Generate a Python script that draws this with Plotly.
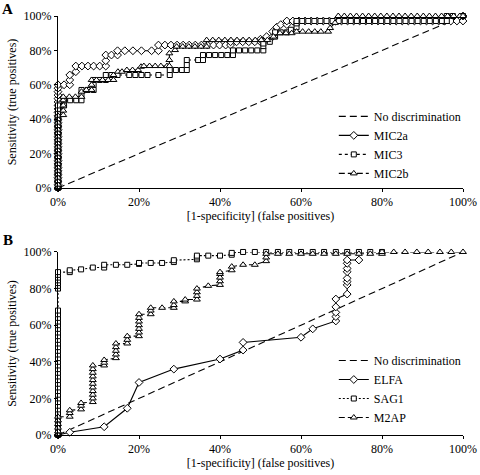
import plotly.graph_objects as go

# ---------------- Panel A data (percent) ----------------
nd_x = [0, 100]
nd_y = [0, 100]

mic2a_x = [0]*31 + [1.5, 2.9, 2.9, 2.9, 4.4, 4.4, 5.9, 7.4, 8.8, 10.3, 11.8, 11.8, 11.8, 13.2, 14.7, 14.7,
           16.5, 18.5, 20.6, 23.1, 24.8, 24.8, 26.4, 27.9, 29.4, 30.9, 32.4, 33.9, 35.4, 36.9, 38.4, 39.9,
           41.4, 42.6, 42.6, 44.1, 45.6, 47.1, 48.6, 50.0, 50.0, 51.5, 51.5, 53.0, 53.0, 54.0, 55.0, 56.5,
           56.5, 58.0, 59.5, 61.0, 62.5, 64.0, 65.5, 67.0, 68.5, 70.0, 71.5, 73.0, 74.5, 76.0, 77.5, 79.0,
           80.5, 82.0, 83.5, 85.0, 86.5, 88.0, 89.5, 91.0, 92.5, 94.0, 95.5, 97.0, 98.5, 100, 100]
mic2a_y = [0, 2, 4, 6, 8, 10, 12, 14, 16, 18, 20, 22, 24, 26, 28, 30, 32, 34, 36, 38, 40, 42, 44, 46, 48,
           50, 52, 54, 56, 58, 60,
           60, 60, 62.8, 65.7, 67.6, 70.9, 70.9, 70.9, 70.9, 70.9, 70.9, 74.0, 77.3, 77.3, 77.3, 79.8,
           79.8, 79.8, 79.8, 79.8, 79.8, 83.1, 83.1, 83.1, 83.1, 83.1, 83.1, 83.1, 83.1, 83.1, 83.1, 83.1,
           83.1, 83.1, 85.0, 85.0, 85.0, 85.0, 85.0, 85.0, 86.5, 86.5, 88.0, 88.0, 91.0, 93.5, 95.0, 95.0,
           97.1, 97.1, 97.1, 97.1, 97.1, 97.1, 97.1, 97.1, 97.1, 97.1, 97.1, 97.1, 97.1, 97.1, 97.1, 97.1,
           97.1, 97.1, 97.1, 97.1, 97.1, 97.1, 97.1, 97.1, 97.1, 97.1, 97.1, 97.1, 97.1, 97.1, 100]

mic3_x = [0]*25 + [1.5, 1.5, 3.0, 4.5, 5.8, 5.8, 5.8, 7.3, 8.8, 8.8, 8.8, 10.3, 11.8, 11.8, 13.2, 14.7,
          17.6, 19.1, 20.6, 22.1, 24.8, 27.6, 27.6, 29.1, 30.6, 31.8, 31.8, 31.8, 34.6, 35.8, 35.8, 37.3,
          38.8, 40.3, 41.8, 43.2, 43.2, 44.7, 46.2, 47.7, 49.2, 50.7, 50.7, 50.7, 52.3, 53.6, 53.6, 55.0,
          56.5, 57.5, 58.9, 58.9, 58.9, 60.3, 61.8, 63.3, 64.8, 66.3, 67.8, 69.3, 70.8, 72.3, 73.8, 75.3,
          76.8, 78.3, 79.8, 81.3, 82.8, 84.3, 85.8, 87.3, 88.8, 90.3, 91.8, 93.3, 94.8, 96.0, 96.0, 97.5,
          100]
mic3_y = [0, 2, 4, 6, 8, 10, 12, 14, 16, 18, 20, 22, 24, 26, 28, 30, 32, 34, 36, 38, 40, 42, 44, 46, 48,
          48, 51, 51, 51, 51, 54, 57, 57, 57, 60, 62.8, 62.8, 62.8, 65.7, 65.7, 65.7,
          65.7, 65.7, 65.7, 65.7, 65.7, 65.7, 68.6, 68.6, 68.6, 68.6, 71.5, 74.4, 74.4, 74.4, 77.3, 77.3,
          77.3, 77.3, 77.3, 77.3, 80.0, 80.0, 80.0, 80.0, 80.0, 80.0, 82.5, 84.0, 85.0, 88.0, 90.5, 90.5,
          90.5, 92.0, 93.5, 95.7, 97.1, 97.1, 97.1, 97.1, 97.1, 97.1, 97.1, 97.1, 97.1, 97.1, 97.1, 97.1,
          97.1, 97.1, 97.1, 97.1, 97.1, 97.1, 97.1, 97.1, 97.1, 97.1, 97.1, 97.1, 97.1, 97.1, 100, 100,
          100]

mic2b_x = [0]*22 + [1.3, 1.3, 1.3, 1.3, 1.3, 2.8, 4.3, 5.8, 5.8, 7.0, 8.3, 8.3, 8.3, 9.5, 11.0, 12.4,
           13.7, 13.7, 14.8, 15.8, 17.0, 18.4, 19.8, 20.5, 21.2, 22.6, 24.0, 25.4, 26.9, 27.5, 27.5, 27.5,
           28.9, 29.3, 30.8, 32.3, 33.8, 35.3, 36.7, 36.7, 38.2, 39.7, 41.2, 42.7, 44.2, 45.7, 47.2, 48.7,
           50.2, 51.7, 53.2, 54.8, 56.3, 57.7, 58.9, 60.4, 61.9, 63.4, 64.9, 66.7, 67.2, 68.4, 69.2, 70.7,
           72.2, 73.7, 75.2, 76.7, 78.2, 79.7, 81.2, 82.7, 84.2, 85.7, 87.2, 88.7, 90.2, 91.7, 93.2, 94.7,
           96.2, 97.7, 99.2, 100]
mic2b_y = [0, 2, 4, 6, 8, 10, 12, 14, 16, 18, 20, 22, 24, 26, 28, 30, 32, 34, 36, 38, 40, 42,
           42.4, 45, 48, 51, 53, 53, 53, 53, 56, 57, 57, 60, 62.8, 62.8, 62.8, 62.8,
           62.8, 65.7, 67.6, 67.6, 68.6, 68.6, 68.6, 70.5, 70.9, 70.9, 70.9, 70.9, 70.9, 70.9, 74.4, 78.3,
           80.2, 82.2, 82.2, 82.2, 82.2, 82.2, 82.2, 86, 86, 86, 86, 86, 86, 86, 86, 86,
           86, 86, 88, 90, 90, 90, 90.9, 90.9, 90.9, 90.9, 90.9, 90.9, 93, 96, 100, 100,
           100, 100, 100, 100, 100, 100, 100, 100, 100, 100, 100, 100, 100, 100, 100, 100,
           100, 100, 100, 100]

# ---------------- Panel B data (percent) ----------------
elfa_x = [0, 2.9, 11.4, 17.1, 20.0, 28.6, 40.0, 45.7, 45.7, 60.0, 62.9, 68.6, 68.6, 68.6, 68.6, 68.6,
          71.4, 71.4, 71.4, 71.4, 71.4, 71.4, 71.4, 71.4, 74.3]
elfa_y = [0, 1.5, 4.5, 14.6, 28.7, 36.0, 41.5, 46.4, 50.6, 53.4, 58.0, 62.3, 64.7, 67.0, 70.0, 74.3,
          77.0, 82.0, 83.8, 85.6, 89.2, 91.0, 93.8, 95.6, 95.6]

sag1_x = [0]*42 + [2.9, 2.9, 5.7, 8.6, 11.4, 11.4, 14.3, 17.1, 20.0, 20.0, 22.9, 25.7, 28.6, 28.6, 34.3,
          34.3, 34.3, 37.1, 40.0, 42.9, 42.9, 45.7, 48.6, 51.4, 54.3, 57.1, 60.0, 62.9, 65.7, 68.6, 71.4,
          74.3, 77.1, 80.0]
sag1_y = [0, 2, 4, 6, 8, 10, 12, 14, 16, 18, 20, 22, 24, 26, 28, 30, 32, 34, 36, 38, 40, 42, 44, 46, 48,
          50, 52, 54, 56, 58, 60, 62, 64, 66, 68, 80, 81.5, 83, 84.5, 86, 87.5, 89,
          89, 90, 90.5, 91.5, 91.5, 93, 93, 93, 93.5, 94, 94, 94, 94.5, 95.5, 96, 97, 98, 98, 98, 98.5,
          99.5, 100, 100, 100, 100, 100, 100, 100, 100, 100, 100, 100, 100, 100]

m2ap_x = [0, 0, 0, 0, 0, 0, 2.9, 2.9, 2.9, 5.7, 5.7, 5.7, 8.6, 8.6, 8.6, 8.6, 8.6, 8.6, 8.6, 8.6, 8.6,
          8.6, 8.6, 11.4, 11.4, 11.4, 14.3, 14.3, 14.3, 14.3, 14.3, 17.1, 17.1, 17.1, 20.0, 20.0, 20.0,
          20.0, 20.0, 20.0, 20.0, 22.9, 22.9, 22.9, 25.7, 28.6, 28.6, 28.6, 31.4, 31.4, 34.3, 34.3, 34.3,
          34.3, 37.1, 40.0, 40.0, 40.0, 40.0, 40.0, 42.9, 42.9, 45.7, 48.6, 51.4, 51.4, 51.4, 54.3, 57.1,
          60.0, 62.9, 65.7, 68.6, 71.4, 74.3, 77.1, 80.0, 80.0, 82.9, 85.7, 88.6, 91.4, 94.3, 97.1, 100]
m2ap_y = [0, 2, 4, 6, 8, 10, 10, 12, 13.5, 14, 16, 17.5, 18, 20, 22, 24, 26, 28, 30, 32, 34,
          36, 38, 38, 39.5, 41, 42, 44, 46, 48, 50, 50, 52, 54, 54, 56, 58,
          60, 62, 64, 66, 66, 68, 69.5, 69.5, 69.5, 71, 73, 73, 74, 74, 76, 78,
          80, 81.5, 82, 84, 86, 88, 89, 90, 92, 93, 93, 95, 97, 99, 99, 99,
          99, 99, 99, 99, 99, 99, 99, 99, 100, 100, 100, 100, 100, 100, 100, 100]

tick_vals = [0, 20, 40, 60, 80, 100]
tick_text = ["0%", "20%", "40%", "60%", "80%", "100%"]

FONT = "Liberation Serif, Times New Roman, serif"
fig = go.Figure()

def add(x, y, name, xa, ya, legend, dash, symbol, mode="lines+markers", size=5):
    fig.add_trace(go.Scatter(
        x=x, y=y, name=name, xaxis=xa, yaxis=ya, legend=legend, mode=mode,
        line=dict(color="black", width=1.1, dash=dash),
        marker=dict(symbol=symbol, size=size, color="white", line=dict(color="black", width=1)),
        cliponaxis=False,
    ))

# Panel A
add(nd_x, nd_y, "No discrimination", "x", "y", "legend", "7px,4px", "circle", mode="lines")
add(mic2a_x, mic2a_y, "MIC2a", "x", "y", "legend", "solid", "diamond", size=6)
add(mic3_x, mic3_y, "MIC3", "x", "y", "legend", "3px,3px", "square", size=5)
add(mic2b_x, mic2b_y, "MIC2b", "x", "y", "legend", "6px,3px", "triangle-up", size=6)
# Panel B
add(nd_x, nd_y, "No discrimination", "x2", "y2", "legend2", "7px,4px", "circle", mode="lines")
add(elfa_x, elfa_y, "ELFA", "x2", "y2", "legend2", "solid", "diamond", size=6)
add(sag1_x, sag1_y, "SAG1", "x2", "y2", "legend2", "2px,2px", "square", size=5)
add(m2ap_x, m2ap_y, "M2AP", "x2", "y2", "legend2", "6px,3px", "triangle-up", size=6)

axis_common = dict(
    range=[0, 100], showgrid=False, zeroline=False, showline=True, linecolor="black", linewidth=1,
    ticks="outside", ticklen=3, tickcolor="black",
    tickfont=dict(family=FONT, size=12, color="black"),
    tickvals=tick_vals, ticktext=tick_text, fixedrange=True, automargin=False,
)
xtitle = dict(text="[1-specificity] (false positives)", font=dict(family=FONT, size=12, color="black"), standoff=0)
ytitle = dict(text="Sensitivity (true positives)", font=dict(family=FONT, size=12, color="black"), standoff=4)

fig.update_layout(
    width=480, height=475,
    margin=dict(l=58, r=17, t=16, b=40, autoexpand=False),
    paper_bgcolor="white", plot_bgcolor="white",
    font=dict(family=FONT, color="black"),
    xaxis=dict(axis_common, domain=[0, 1], anchor="y", title=xtitle),
    yaxis=dict(axis_common, domain=[0.5895, 1], anchor="x", title=ytitle),
    xaxis2=dict(axis_common, domain=[0, 1], anchor="y2", title=xtitle),
    yaxis2=dict(axis_common, domain=[0, 0.4368], anchor="x2", title=ytitle),
    legend=dict(x=0.681, y=0.795, xanchor="left", yanchor="top", bgcolor="rgba(0,0,0,0)",
                font=dict(family=FONT, size=12, color="black"), itemwidth=30, tracegroupgap=0),
    legend2=dict(x=0.681, y=0.2124, xanchor="left", yanchor="top", bgcolor="rgba(0,0,0,0)",
                 font=dict(family=FONT, size=12, color="black"), itemwidth=30, tracegroupgap=0),
    showlegend=True,
    annotations=[
        dict(text="<b>A</b>", xref="paper", yref="paper", x=-0.1235, y=1.0167, xanchor="center",
             yanchor="middle", showarrow=False, font=dict(family=FONT, size=15, color="black")),
        dict(text="<b>B</b>", xref="paper", yref="paper", x=-0.1235, y=0.4654, xanchor="center",
             yanchor="middle", showarrow=False, font=dict(family=FONT, size=15, color="black")),
    ],
)

fig.write_html("out.html", config={"displayModeBar": False},
               post_script="document.body.style.margin='0px';")
